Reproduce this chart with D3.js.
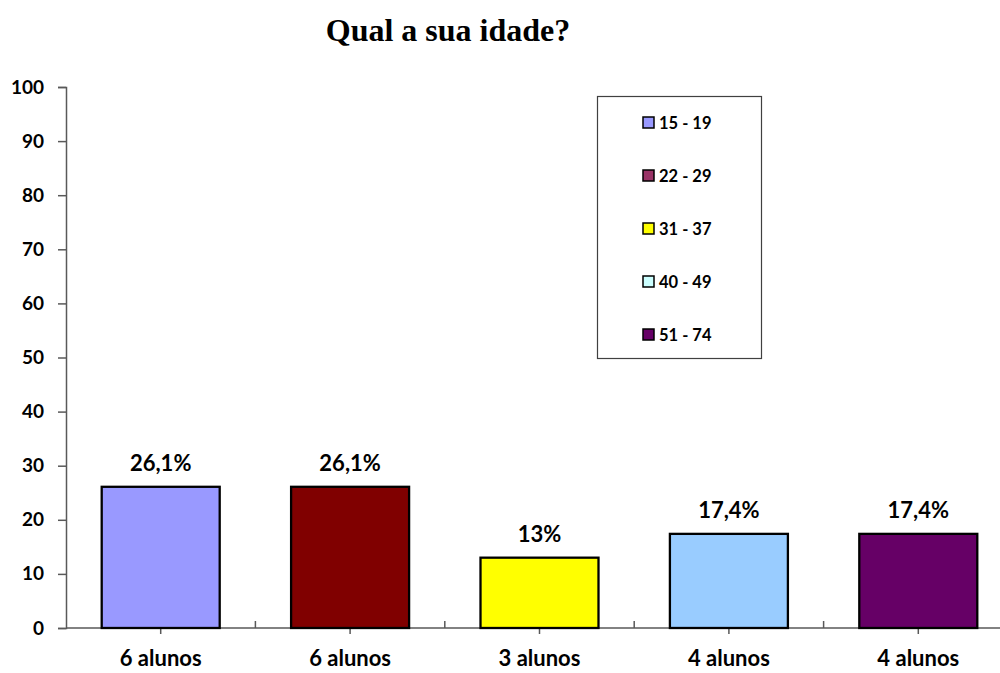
<!DOCTYPE html>
<html>
<head>
<meta charset="utf-8">
<script src="https://cdn.jsdelivr.net/npm/d3@7/dist/d3.min.js"></script>
<style>
  html, body { margin: 0; padding: 0; background: #fff; }
  svg { display: block; }
</style>
</head>
<body>
<svg id="chart" width="1000" height="673"></svg>
<script>
// ---- data ----
const title = "Qual a sua idade?";
const categories = ["6 alunos", "6 alunos", "3 alunos", "4 alunos", "4 alunos"];
const values = [26.1, 26.1, 13, 17.4, 17.4];
const valueLabels = ["26,1%", "26,1%", "13%", "17,4%", "17,4%"];
const barColors = ["#9999FF", "#800000", "#FFFF00", "#99CCFF", "#660066"];
const legendLabels = ["15 - 19", "22 - 29", "31 - 37", "40 - 49", "51 - 74"];
const legendColors = ["#9999FF", "#993366", "#FFFF00", "#CCFFFF", "#660066"];
const yTicks = [0, 10, 20, 30, 40, 50, 60, 70, 80, 90, 100];

// ---- layout ----
const svg = d3.select("#chart");
const font = "Lato, 'Open Sans', sans-serif";
const plot = { left: 66, right: 1013, top: 87, bottom: 628 };

const x = d3.scaleBand()
  .domain(d3.range(categories.length))
  .range([plot.left, plot.right])
  .paddingInner(0.377)
  .paddingOuter(0.1885);

const y = d3.scaleLinear().domain([0, 100]).range([plot.bottom, plot.top]);

// title
svg.append("text")
  .attr("x", 448).attr("y", 41)
  .attr("text-anchor", "middle")
  .attr("font-family", "'Liberation Serif', 'Times New Roman', serif")
  .attr("font-weight", "bold")
  .attr("font-size", 32)
  .attr("fill", "#000")
  .text(title);

// y axis
const yAxis = d3.axisLeft(y).tickValues(yTicks).tickSize(8).tickPadding(14).tickFormat(d3.format("d"));
const gy = svg.append("g").attr("transform", `translate(${plot.left},0)`).call(yAxis);
gy.select(".domain").attr("stroke", "#595959").attr("stroke-width", 1.5);
gy.selectAll(".tick line").attr("stroke", "#595959").attr("stroke-width", 1.5);
gy.selectAll(".tick text")
  .attr("font-family", font).attr("font-weight", "bold").attr("font-size", 19)
  .attr("fill", "#000");

// x axis
const xAxis = d3.axisBottom(x).tickSize(6).tickPadding(16).tickFormat(i => categories[i]);
const gx = svg.append("g").attr("transform", `translate(0,${plot.bottom})`).call(xAxis);
gx.select(".domain").attr("d", `M${plot.left},0H${plot.right}`).attr("stroke", "#595959").attr("stroke-width", 1.5);
gx.selectAll(".tick line").attr("stroke", "#595959").attr("stroke-width", 1.5);
gx.selectAll(".tick text")
  .attr("font-family", font).attr("font-weight", "bold").attr("font-size", 22)
  .attr("fill", "#000");
// boundary ticks (upward)
const step = x.step();
gx.selectAll(".bound").data(d3.range(1, categories.length + 1)).join("line")
  .attr("class", "bound")
  .attr("x1", i => plot.left + i * step).attr("x2", i => plot.left + i * step)
  .attr("y1", 0).attr("y2", -7)
  .attr("stroke", "#595959").attr("stroke-width", 1.5);

// bars
svg.append("g").selectAll("rect").data(values).join("rect")
  .attr("x", (d, i) => x(i))
  .attr("y", d => y(d))
  .attr("width", x.bandwidth())
  .attr("height", d => y(0) - y(d))
  .attr("fill", (d, i) => barColors[i])
  .attr("stroke", "#000")
  .attr("stroke-width", 2.3);

// value labels
svg.append("g").selectAll("text").data(values).join("text")
  .attr("x", (d, i) => x(i) + x.bandwidth() / 2)
  .attr("y", d => y(d) - 16)
  .attr("text-anchor", "middle")
  .attr("font-family", font).attr("font-weight", "bold").attr("font-size", 22)
  .attr("fill", "#000")
  .text((d, i) => valueLabels[i]);

// legend
const legend = svg.append("g");
legend.append("rect")
  .attr("x", 597.5).attr("y", 96.5).attr("width", 164).attr("height", 262)
  .attr("fill", "#fff").attr("stroke", "#404040").attr("stroke-width", 1.2);
const ly = d3.scalePoint().domain(d3.range(legendLabels.length)).range([122.5, 334.5]);
const items = legend.selectAll("g.item").data(legendLabels).join("g")
  .attr("class", "item")
  .attr("transform", (d, i) => `translate(0,${ly(i)})`);
items.append("rect")
  .attr("x", 643).attr("y", -5.5).attr("width", 11).attr("height", 11)
  .attr("fill", (d, i) => legendColors[i])
  .attr("stroke", "#000").attr("stroke-width", 1.5);
items.append("text")
  .attr("x", 659).attr("y", 6)
  .attr("font-family", font).attr("font-weight", "bold").attr("font-size", 16.5)
  .attr("fill", "#000")
  .text(d => d);
</script>
</body>
</html>
